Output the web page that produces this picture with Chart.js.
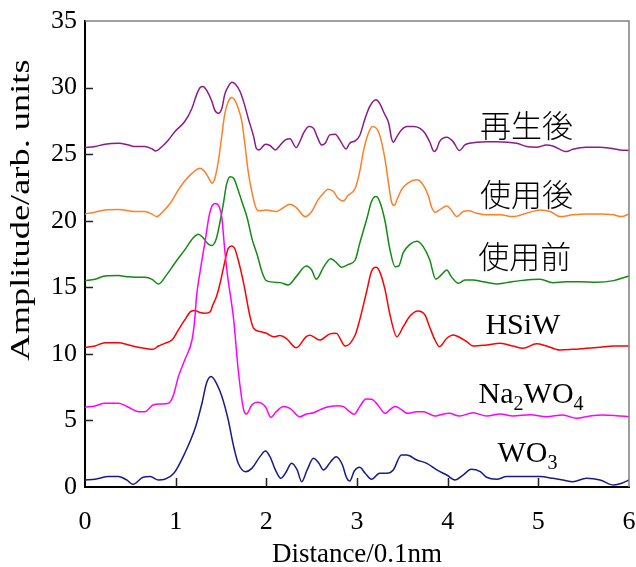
<!DOCTYPE html>
<html>
<head>
<meta charset="utf-8">
<script src="https://cdn.jsdelivr.net/npm/chart.js@4"></script>
<style>
  html, body { margin: 0; padding: 0; background: #fff; }
  #wrap { width: 636px; height: 567px; position: relative; }
</style>
</head>
<body>
<div id="wrap"><canvas id="chart"></canvas></div>
<script>
// --- DATA ---
const wo3X = [0,0.11,0.26,0.37,0.46,0.53,0.64,0.72,0.81,0.88,0.98,1.10,1.22,1.29,1.34,1.39,1.45,1.51,1.58,1.64,1.69,1.77,1.84,1.93,1.99,2.04,2.10,2.16,2.21,2.28,2.34,2.39,2.45,2.52,2.58,2.63,2.71,2.77,2.84,2.88,2.92,2.97,3.03,3.09,3.16,3.25,3.33,3.40,3.49,3.55,3.66,3.77,3.88,3.99,4.08,4.17,4.26,4.36,4.43,4.54,4.65,4.80,5.02,5.16,5.27,5.38,5.53,5.68,5.83,5.92,6.0];
const wo3Y = [0.53,0.58,0.78,0.78,0.53,0.2,0.73,0.78,0.53,0.58,1.03,2.53,4.53,6.29,7.79,8.29,7.79,6.79,5.03,3.03,1.78,1.15,1.40,2.28,2.70,2.28,1.28,0.65,1.03,1.78,1.28,0.40,1.28,2.15,1.78,1.28,1.90,2.28,1.65,0.78,0.45,1.2,1.48,1.03,0.58,1.03,1.03,1.28,2.40,2.40,2.03,1.78,1.28,0.90,0.53,0.90,1.33,1.15,0.73,0.58,0.78,0.78,0.78,0.65,0.53,0.40,0.65,0.53,0.15,0.28,0.53];

const na2wo4X = [0,0.11,0.22,0.37,0.48,0.59,0.66,0.75,0.83,0.92,0.97,1.03,1.10,1.18,1.21,1.23,1.27,1.33,1.37,1.40,1.44,1.48,1.51,1.54,1.57,1.64,1.69,1.75,1.78,1.84,1.90,1.99,2.05,2.11,2.19,2.26,2.37,2.44,2.52,2.59,2.66,2.78,2.85,2.92,2.97,3.03,3.10,3.16,3.23,3.31,3.36,3.42,3.47,3.56,3.66,3.73,3.80,3.86,3.91,4.02,4.13,4.28,4.43,4.58,4.72,4.91,5.09,5.27,5.42,5.57,5.71,5.86,6.0];
const na2wo4Y = [5.99,6.09,6.29,6.29,5.99,5.66,5.66,6.16,6.24,6.29,6.79,8.29,9.54,11.04,12.55,14.30,16.2,18.68,20.4,21.1,21.3,21.05,20.2,17.9,16.0,12.55,8.79,5.79,5.48,6.16,6.36,6.03,5.24,5.66,6.04,5.91,5.28,5.48,5.58,5.79,5.99,6.11,6.04,5.66,5.46,6.04,6.61,6.59,6.16,5.53,5.79,6.04,5.91,5.53,5.66,5.66,5.48,5.33,5.41,5.53,5.33,5.58,5.33,5.48,5.33,5.43,5.28,5.41,5.16,5.33,5.41,5.36,5.28];

const hsiwX = [0,0.11,0.22,0.37,0.48,0.59,0.70,0.75,0.81,0.88,0.96,1.03,1.10,1.17,1.21,1.27,1.32,1.38,1.41,1.45,1.49,1.53,1.58,1.62,1.65,1.69,1.75,1.82,1.86,1.93,2.00,2.08,2.15,2.22,2.33,2.44,2.48,2.59,2.70,2.77,2.87,2.98,3.03,3.11,3.16,3.21,3.25,3.31,3.36,3.44,3.51,3.58,3.67,3.75,3.80,3.86,3.91,3.99,4.06,4.13,4.21,4.28,4.43,4.58,4.72,4.83,4.98,5.09,5.24,5.38,5.53,5.68,5.83,6.0];
const hsiwY = [10.50,10.59,10.84,10.84,10.67,10.50,10.37,10.34,10.59,10.79,11.04,11.80,12.55,13.20,13.25,13.10,13.05,13.15,13.67,14.30,15.30,16.55,17.93,18.1,17.93,17.05,15.30,12.80,11.92,11.68,11.55,11.29,11.37,11.17,10.46,11.29,11.40,11.04,11.50,11.55,10.59,11.42,12.55,14.80,16.2,16.50,16.18,14.80,13.05,11.29,12.04,12.80,13.22,12.92,12.04,11.04,10.54,11.17,11.42,11.25,10.92,10.59,10.67,10.79,10.59,10.42,10.75,10.59,10.29,10.34,10.42,10.50,10.59,10.59];

const beforeX = [0,0.11,0.22,0.37,0.46,0.55,0.66,0.74,0.81,0.90,0.99,1.10,1.19,1.25,1.30,1.36,1.40,1.45,1.49,1.53,1.56,1.60,1.64,1.67,1.73,1.79,1.84,1.90,1.95,2.00,2.15,2.24,2.33,2.44,2.50,2.55,2.63,2.71,2.78,2.83,2.90,2.98,3.03,3.11,3.16,3.21,3.25,3.31,3.36,3.42,3.46,3.51,3.58,3.66,3.73,3.80,3.87,3.93,3.99,4.04,4.12,4.19,4.28,4.39,4.54,4.65,4.80,5.02,5.16,5.31,5.46,5.64,5.83,5.92,6.0];
const beforeY = [15.50,15.60,15.85,15.88,15.80,15.75,15.75,15.60,15.25,15.93,16.81,17.81,18.69,18.99,18.74,18.24,18.14,18.69,19.94,21.44,22.69,23.31,23.19,22.69,21.44,20.19,18.69,17.43,16.2,15.5,15.35,15.17,15.80,16.6,16.3,15.6,16.5,17.15,16.8,16.5,16.7,17.05,18.3,20.19,21.44,21.81,21.44,19.94,17.93,16.55,16.6,17.6,18.2,18.45,18.05,17.1,15.6,15.93,16.30,15.80,15.30,15.55,15.55,15.42,15.25,15.35,15.50,15.60,15.35,15.42,15.42,15.37,15.50,15.68,15.85];

const usedX = [0,0.11,0.22,0.37,0.55,0.66,0.74,0.79,0.86,0.94,1.03,1.10,1.18,1.27,1.32,1.37,1.40,1.43,1.47,1.51,1.54,1.58,1.62,1.65,1.69,1.73,1.76,1.80,1.84,1.88,1.91,2.00,2.11,2.19,2.26,2.33,2.43,2.50,2.57,2.63,2.68,2.74,2.79,2.85,2.90,2.98,3.03,3.07,3.12,3.17,3.22,3.26,3.31,3.35,3.38,3.41,3.44,3.49,3.56,3.66,3.73,3.79,3.82,3.86,3.91,3.99,4.04,4.10,4.17,4.23,4.32,4.43,4.58,4.72,4.87,5.02,5.13,5.24,5.38,5.53,5.68,5.83,5.92,6.0];
const usedY = [20.51,20.64,20.81,20.84,20.69,20.69,20.49,20.31,20.69,21.31,22.31,22.99,23.56,23.94,23.69,23.14,22.82,23.14,24.44,26.45,27.95,28.95,29.25,29.08,28.45,27.45,25.94,23.69,22.19,21.06,20.74,20.81,20.69,20.99,21.24,20.99,20.31,20.69,21.56,22.06,22.37,22.19,21.69,21.49,21.89,22.44,23.69,25.19,26.45,27.07,26.9,26.20,24.57,22.69,21.44,21.14,21.56,22.31,22.82,23.07,22.69,21.81,21.06,20.64,20.81,21.11,20.81,20.31,20.69,20.74,20.56,20.44,20.44,20.31,20.56,20.81,20.69,20.31,20.44,20.51,20.51,20.44,20.31,20.51];

const regenX = [0,0.11,0.22,0.37,0.48,0.55,0.66,0.74,0.78,0.85,0.92,0.99,1.10,1.18,1.23,1.27,1.30,1.35,1.40,1.43,1.47,1.51,1.54,1.58,1.62,1.66,1.71,1.76,1.80,1.86,1.89,1.92,1.99,2.04,2.10,2.15,2.21,2.26,2.33,2.37,2.41,2.47,2.52,2.56,2.61,2.65,2.70,2.76,2.81,2.88,2.92,2.98,3.03,3.09,3.14,3.21,3.25,3.30,3.35,3.38,3.40,3.44,3.49,3.55,3.62,3.69,3.75,3.80,3.85,3.88,3.91,3.99,4.06,4.13,4.19,4.24,4.43,4.54,4.76,4.87,4.98,5.09,5.16,5.31,5.38,5.53,5.68,5.79,5.90,6.0];
const regenY = [25.49,25.57,25.75,25.82,25.69,25.57,25.57,25.39,25.24,25.57,26.07,26.69,27.45,28.45,29.45,30.0,30.08,29.70,28.95,28.32,28.07,28.45,29.45,30.08,30.40,30.25,29.70,28.70,27.70,26.32,25.44,25.32,25.75,25.65,25.32,25.65,26.07,26.15,25.49,25.95,26.57,27.07,26.95,26.32,25.69,25.82,26.45,26.50,26.07,25.39,25.82,26.00,26.40,27.70,28.57,29.08,28.82,28.07,27.32,26.20,25.90,26.32,26.82,27.07,27.07,26.95,26.57,25.95,25.19,25.39,25.94,26.27,25.94,25.27,25.69,25.82,25.94,25.94,25.82,25.57,25.51,25.69,25.61,25.19,25.36,25.51,25.51,25.44,25.32,25.27];

const seriesNames = ['WO3', 'Na2WO4', 'HSiW', '使用前', '使用後', '再生後'];
const xTicks = [0, 1, 2, 3, 4, 5, 6];
const yTicks = [0, 5, 10, 15, 20, 25, 30, 35];

// --- STYLE ---
const colors = ['#1a1a8c', '#ff00ff', '#ff0000', '#138a13', '#ff7f27', '#8b1a8b'];
// where each curve's name sits, in data units (x centre, y baseline/middle)
const labelX = [4.88, 4.92, 4.83, 4.85, 4.87, 4.87];
const labelY = [1.9, 6.33, 11.47, 17.3, 22.0, 27.2];
const serif = '"Liberation Serif", "Times New Roman", serif';
const cjk = '"Noto Sans CJK JP", sans-serif';

function toPoints(xs, ys) {
    return xs.map((x, i) => ({ x: x, y: ys[i] }));
}

const seriesX = [wo3X, na2wo4X, hsiwX, beforeX, usedX, regenX];
const seriesY = [wo3Y, na2wo4Y, hsiwY, beforeY, usedY, regenY];

const datasets = seriesNames.map((name, i) => ({
    label: name,
    data: toPoints(seriesX[i], seriesY[i]),
    borderColor: colors[i],
    borderWidth: 1.5,
    pointRadius: 0,
    fill: false,
    cubicInterpolationMode: 'monotone'
}));

// draw a name, digits after letters become subscripts
function drawName(ctx, text, cx, y) {
    const parts = [];
    for (let i = 0; i < text.length; i++) {
        const ch = text[i];
        const sub = /[0-9]/.test(ch) && i > 0;
        if (parts.length && parts[parts.length - 1].sub === sub) parts[parts.length - 1].t += ch;
        else parts.push({ t: ch, sub: sub });
    }
    const big = '30px ' + serif, small = '20px ' + serif;
    let w = 0;
    parts.forEach(p => { ctx.font = p.sub ? small : big; p.w = ctx.measureText(p.t).width; w += p.w; });
    let x = cx - w / 2;
    ctx.textAlign = 'left';
    ctx.textBaseline = 'alphabetic';
    parts.forEach(p => {
        ctx.font = p.sub ? small : big;
        ctx.fillText(p.t, x, p.sub ? y + 7 : y);
        x += p.w;
    });
}

// --- FRAME, INWARD TICKS, NAMES, Y TITLE ---
const decorations = {
    id: 'decorations',
    afterDraw(chart) {
        const ctx = chart.ctx;
        const a = chart.chartArea;
        const xs = chart.scales.x, ys = chart.scales.y;
        ctx.save();

        // top and right edges of the plot box
        ctx.strokeStyle = '#808080';
        ctx.lineWidth = 1.5;
        ctx.beginPath();
        ctx.moveTo(a.left, a.top);
        ctx.lineTo(a.right, a.top);
        ctx.lineTo(a.right, a.bottom);
        ctx.stroke();

        // tick marks pointing into the plot
        ctx.strokeStyle = '#222';
        ctx.lineWidth = 1.5;
        ctx.beginPath();
        yTicks.forEach(v => {
            const py = Math.round(ys.getPixelForValue(v)) + 0.5;
            if (v === 0 || v === 35) return;
            ctx.moveTo(a.left, py);
            ctx.lineTo(a.left + 8, py);
        });
        xTicks.forEach(v => {
            const px = Math.round(xs.getPixelForValue(v)) + 0.5;
            if (v === 0 || v === 6) return;
            ctx.moveTo(px, a.bottom);
            ctx.lineTo(px, a.bottom - 9);
        });
        ctx.stroke();

        // curve names
        ctx.fillStyle = '#000';
        seriesNames.forEach((name, i) => {
            const cx = xs.getPixelForValue(labelX[i]);
            const cy = ys.getPixelForValue(labelY[i]);
            if (/^[A-Za-z0-9]+$/.test(name)) {
                drawName(ctx, name, cx, cy);
            } else {
                ctx.font = '300 31px ' + cjk;
                ctx.textAlign = 'center';
                ctx.textBaseline = 'middle';
                ctx.fillText(name, cx, cy);
            }
        });

        // y axis title (drawn long, as in the reference)
        ctx.translate(22, 210);
        ctx.rotate(-Math.PI / 2);
        ctx.scale(1.3, 1);
        ctx.font = '28px ' + serif;
        ctx.textAlign = 'center';
        ctx.textBaseline = 'middle';
        ctx.fillText('Amplitude/arb. units', 0, 0);
        ctx.restore();
    }
};

// --- CHART ---
const chart = new Chart(document.getElementById('chart'), {
    type: 'line',
    data: { datasets: datasets },
    options: {
        responsive: true,
        maintainAspectRatio: false,
        animation: false,
        layout: { padding: { top: 21, right: 7, left: 0, bottom: 0 } },
        plugins: {
            legend: { display: false },
            tooltip: { enabled: false }
        },
        scales: {
            x: {
                type: 'linear',
                min: 0,
                max: 6,
                afterBuildTicks: s => { s.ticks = xTicks.map(v => ({ value: v })); },
                afterFit: s => { s.height = 80; s.paddingLeft = 0; s.paddingRight = 0; },
                grid: { drawOnChartArea: false, drawTicks: false },
                border: { color: '#000', width: 2 },
                ticks: { color: '#000', padding: 20, maxRotation: 0, font: { family: serif, size: 26 } },
                title: {
                    display: true,
                    text: 'Distance/0.1nm',
                    color: '#000',
                    padding: { top: 0, bottom: -4 },
                    font: { family: serif, size: 27 }
                }
            },
            y: {
                type: 'linear',
                min: 0,
                max: 35,
                afterBuildTicks: s => { s.ticks = yTicks.map(v => ({ value: v })); },
                afterFit: s => { s.width = 85; s.paddingTop = 0; s.paddingBottom = 0; },
                grid: { drawOnChartArea: false, drawTicks: false },
                border: { color: '#000', width: 2 },
                ticks: { color: '#000', padding: 8, font: { family: serif, size: 26 } }
            }
        }
    },
    plugins: [decorations]
});
</script>
</body>
</html>
